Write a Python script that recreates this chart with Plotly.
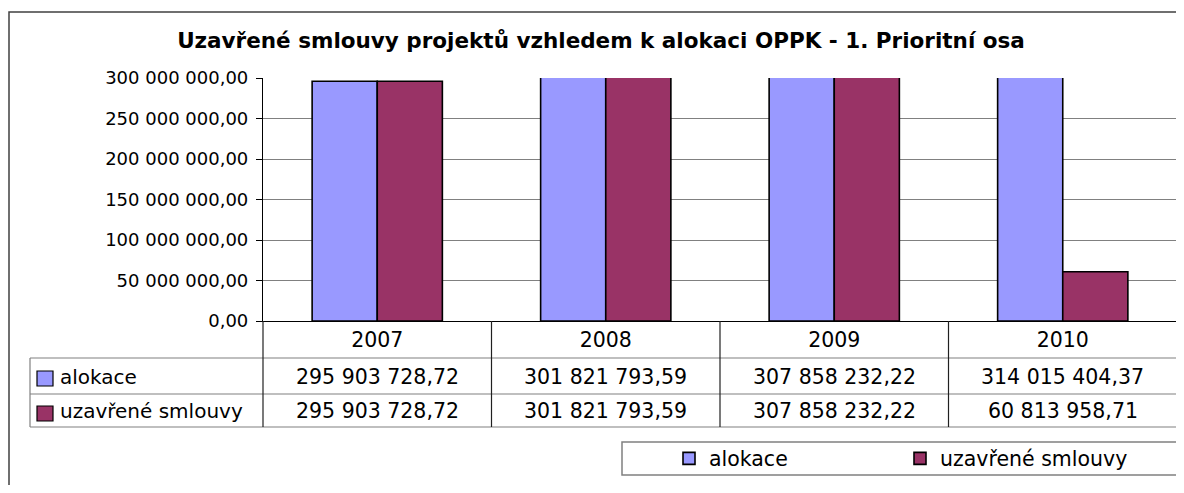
import plotly.graph_objects as go

# ---- data ----
years = ["2007", "2008", "2009", "2010"]
alokace = [295903728.72, 301821793.59, 307858232.22, 314015404.37]
uzavrene = [295903728.72, 301821793.59, 307858232.22, 60813958.71]
series_names = ["alokace", "uzavřené smlouvy"]
series_colors = ["#9999FF", "#993366"]
y_ticks = [0, 50e6, 100e6, 150e6, 200e6, 250e6, 300e6]
title_text = "Uzavřené smlouvy projektů vzhledem k alokaci OPPK - 1. Prioritní osa"

FONT = "DejaVu Sans"
OFF = 8  # default page body margin
W_PX, H_PX = 1184 - OFF, 493 - 2 * OFF
# plot area in screen pixels
SL, SR, ST, SB = 263, 1177, 78, 321
L, R, T, B = SL - OFF, SR - OFF, ST - OFF, SB - OFF
PW, PH = R - L, B - T


def px(X):
    return (X - OFF - L) / PW


def py(Y):
    return (B - (Y - OFF)) / PH


def fmt(v):
    s = f"{v:,.2f}"
    return s.replace(",", " ").replace(".", ",")


fig = go.Figure()
for name, vals, col in zip(series_names, [alokace, uzavrene], series_colors):
    fig.add_trace(go.Bar(
        x=years, y=vals, name=name,
        marker=dict(color=col, line=dict(color="black", width=1.6)),
    ))

shapes = []
# outer chart frame
shapes.append(dict(type="rect", xref="paper", yref="paper",
                   x0=px(9), x1=px(1220), y0=py(12), y1=py(530),
                   line=dict(color="#404040", width=1.5), layer="below"))
# table horizontal lines
for Y in [358, 394, 427]:
    shapes.append(dict(type="line", xref="paper", yref="paper",
                       x0=px(30), x1=1, y0=py(Y), y1=py(Y),
                       line=dict(color="#808080", width=1.2)))
# table left edge
shapes.append(dict(type="line", xref="paper", yref="paper",
                   x0=px(30), x1=px(30), y0=py(358), y1=py(427),
                   line=dict(color="#808080", width=1.2)))
# y-axis continuation through table
shapes.append(dict(type="line", xref="paper", yref="paper",
                   x0=0, x1=0, y0=0, y1=py(427),
                   line=dict(color="#202020", width=1.2)))
# column borders
for i in range(len(years)):
    shapes.append(dict(type="line", xref="x", yref="paper",
                       x0=i + 0.5, x1=i + 0.5, y0=0, y1=py(427),
                       line=dict(color="#202020", width=1.2)))
# row label legend keys
for Yc, col in zip([378.5, 413.5], series_colors):
    shapes.append(dict(type="rect", xref="paper", yref="paper",
                       x0=px(37), x1=px(53), y0=py(Yc - 7.5), y1=py(Yc + 7.5),
                       fillcolor=col, line=dict(color="black", width=1.2)))
# legend box
shapes.append(dict(type="rect", xref="paper", yref="paper",
                   x0=px(622), x1=px(1180), y0=py(442), y1=py(475),
                   line=dict(color="#808080", width=1.5)))

annotations = []
for name, Yc in zip(series_names, [377, 411]):
    annotations.append(dict(text=name, xref="paper", yref="paper",
                            x=px(58), y=py(Yc), xanchor="left", yanchor="middle",
                            showarrow=False, font=dict(family=FONT, size=20, color="black")))
for vals, Yc in zip([alokace, uzavrene], [377, 411]):
    for i, v in enumerate(vals):
        annotations.append(dict(text=fmt(v), xref="x", yref="paper",
                                x=i, y=py(Yc), xanchor="center", yanchor="middle",
                                showarrow=False, font=dict(family=FONT, size=20.5, color="black")))

fig.update_layout(
    width=W_PX, height=H_PX,
    margin=dict(l=L, r=W_PX - R, t=T, b=H_PX - B, pad=0),
    paper_bgcolor="white", plot_bgcolor="white",
    separators=", ",
    barmode="group", bargap=0.43, bargroupgap=0,
    title=dict(text=title_text, x=(601 - OFF) / W_PX, xref="container", xanchor="center",
               y=1 - (40 - OFF) / H_PX, yref="container", yanchor="middle",
               font=dict(family=FONT, size=21.5, color="black", weight="bold")),
    font=dict(family=FONT, color="black"),
    xaxis=dict(type="category", range=[-0.5, len(years) - 0.5],
               showline=True, linecolor="black", linewidth=1.2, ticks="",
               showgrid=False, tickfont=dict(family=FONT, size=20.5, color="black"),
               ticklabelstandoff=0),
    yaxis=dict(range=[0, 300e6], tickvals=y_ticks, tickformat=",.2f",
               showline=True, linecolor="black", linewidth=1.2,
               ticks="outside", ticklen=6, tickcolor="black",
               showgrid=True, gridcolor="#808080", gridwidth=1,
               zeroline=False, tickfont=dict(family=FONT, size=18, color="black"),
               ticklabelstandoff=4),
    showlegend=True,
    legend=dict(orientation="h", x=px(669), y=py(458.5), xanchor="left", yanchor="middle",
                font=dict(family=FONT, size=20.5, color="black"),
                entrywidth=186, entrywidthmode="pixels",
                bgcolor="rgba(0,0,0,0)", borderwidth=0, traceorder="normal"),
    shapes=shapes, annotations=annotations,
)

fig.write_html("out.html")
